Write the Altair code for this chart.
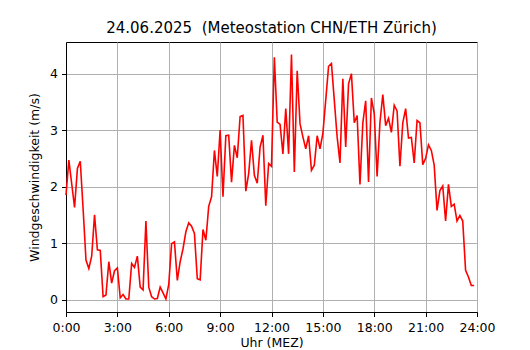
import altair as alt
import pandas as pd

# Wind speed (m/s), 10-minute values from 00:00 to 23:50
speed = [
    1.85, 2.47, 2.05, 1.63, 2.32, 2.45, 1.60, 0.70, 0.55, 0.77, 1.50, 0.88,
    0.87, 0.05, 0.08, 0.67, 0.29, 0.51, 0.56, 0.03, 0.09, 0.01, 0.01, 0.64,
    0.57, 0.77, 0.22, 0.17, 1.39, 0.22, 0.05, 0.01, 0.02, 0.22, 0.12, 0.01,
    0.27, 0.99, 1.02, 0.34, 0.67, 0.90, 1.20, 1.36, 1.30, 1.17, 0.37, 0.35,
    1.24, 1.05, 1.65, 1.82, 2.64, 2.18, 3.00, 1.82, 2.90, 2.91, 2.08, 2.73,
    2.51, 3.24, 3.26, 1.92, 2.23, 2.82, 2.20, 2.06, 2.70, 2.91, 1.66, 2.41,
    2.36, 4.29, 3.14, 3.10, 2.58, 3.38, 2.58, 4.34, 2.26, 4.05, 3.11, 2.88,
    2.67, 2.90, 2.29, 2.38, 2.90, 2.67, 2.94, 3.53, 4.13, 4.18, 3.53, 2.88,
    2.42, 3.91, 2.70, 3.82, 4.00, 3.13, 3.26, 2.04, 3.13, 3.52, 2.08, 3.57,
    3.29, 2.18, 3.14, 3.63, 3.08, 3.21, 2.96, 3.44, 3.34, 2.36, 3.13, 3.38,
    2.86, 2.87, 2.42, 3.17, 3.13, 2.39, 2.50, 2.74, 2.64, 2.38, 1.58, 1.93,
    2.01, 1.39, 2.04, 1.65, 1.69, 1.39, 1.49, 1.39, 0.52, 0.40, 0.25, 0.25,
]
# Time of day in hours (10-minute steps)
hours = [i / 6 for i in range(len(speed))]

x_ticks = [0, 3, 6, 9, 12, 15, 18, 21, 24]
y_ticks = [0, 1, 2, 3, 4]

title_text = "24.06.2025\u00a0 (Meteostation CHN/ETH Zürich)"
x_title = "Uhr (MEZ)"
y_title = "Windgeschwindigkeit (m/s)"

df = pd.DataFrame({"hour": hours, "speed": speed})

FONT = "DejaVu Sans"

chart = (
    alt.Chart(df)
    .mark_line(color="#ff0000", strokeWidth=1.6)
    .encode(
        x=alt.X(
            "hour:Q",
            scale=alt.Scale(domain=[0, 24], nice=False, zero=False),
            axis=alt.Axis(
                values=x_ticks,
                labelExpr="floor(datum.value) + ':00'",
                title=x_title,
            ),
        ),
        y=alt.Y(
            "speed:Q",
            scale=alt.Scale(domain=[-0.22, 4.56], nice=False, zero=False),
            axis=alt.Axis(values=y_ticks, title=y_title),
        ),
    )
    .properties(
        width=411,
        height=270,
        title=alt.TitleParams(
            title_text, font=FONT, fontSize=15, fontWeight="normal",
            color="black", anchor="middle", offset=6,
        ),
        autosize="none",
        padding={"left": 58, "top": 34, "right": 40, "bottom": 40},
    )
    .configure_view(stroke="black", strokeWidth=1)
    .configure_axis(
        labelFont=FONT,
        labelFontSize=12.5,
        labelColor="black",
        titleFont=FONT,
        titleFontSize=12.5,
        titleFontWeight="normal",
        titleColor="black",
        domainColor="black",
        domainWidth=1,
        tickColor="black",
        tickWidth=1,
        tickSize=4.5,
        labelPadding=4,
        grid=True,
        gridColor="#b0b0b0",
        gridWidth=1,
        labelFlush=False,
        labelOverlap=False,
    )
    .configure_axisY(titlePadding=8)
    .configure_axisX(titlePadding=2, labelPadding=5)
)

chart.save("out.html", embed_options={"renderer": "svg", "actions": False})
